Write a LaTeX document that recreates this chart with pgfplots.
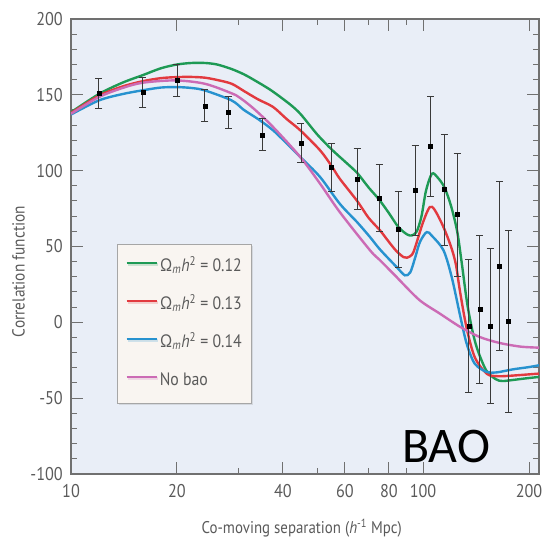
\documentclass[border=0pt]{standalone}
\usepackage{fontspec}
\setmainfont[FakeStretch=0.88]{PT Sans}
\newfontfamily\baofont{Carlito}
\usepackage{pgfplots}
\usepackage{pgfplotstable}
\pgfplotsset{compat=1.18}
\usetikzlibrary{shadows}

\definecolor{bgblue}{HTML}{E9EEF7}
\definecolor{legbg}{HTML}{F9F5F1}
\definecolor{axgray}{HTML}{707070}
\definecolor{txtgray}{HTML}{5A5A5A}
\definecolor{cgreen}{HTML}{1E9A55}
\definecolor{cred}{HTML}{E23A3F}
\definecolor{cblue}{HTML}{2792CF}
\definecolor{cpink}{HTML}{CC6BB5}
\definecolor{errgray}{HTML}{3A3A3A}

% measured correlation function with 1-sigma errors
\pgfplotstableread{
x    y      e
12   151.0  10
16   151.5  10
20   159.5  10.5
24   142.8  10.5
28   138.6  10.5
35   123.7  10.5
45   118.2  13
55   102.0  16
65   94.7   20
75   82.0   22
85   61.3   25
95   87.0   29.5
105  116.2  33
115  87.5   36.6
125  71.0   40.5
135  -2.4   44
145  8.6    48.6
155  -2.4   51.1
165  36.9   55.7
175  0.9    60
}\measured

% model: Omega_m h^2 = 0.12
\pgfplotstableread{
x     y
10    138.5
12    150.5
14    158
16    163
18    167.5
20    170
22    171
24    171
26    170
28.6  167
31    163.5
33    160
37    153
42    143.5
45    137
50    124
55    114
60    106
65    98.5
70    89
75    81
80    72
85    63
90    58
93    57.3
96    60
99    70
102   87
106   98
110   95.5
115   89
120   77
125   60
129   38
134   10
141   -14
151   -31.5
161   -37.5
168   -38.7
180   -38
195   -37
213.5 -36
}\modelA

% model: Omega_m h^2 = 0.13
\pgfplotstableread{
x     y
10    138
12    149.4
14    155.5
16    159
18    161
20    161.7
22    161.8
24    161.3
26    159.8
28.6  157.3
31    152.5
34    147
37.5  142
41    134
44.8  126.6
51    113.4
55    103
58    94.7
65    80
70    69
75.5  60.6
80    53
84    47
88    43
90    42.6
93    44.5
95    49.6
100   66
104.5 76
108   74
114.3 62.8
120.2 49.6
124   38
127.2 21.1
132.8 -3.1
140.2 -22.9
151.5 -33.8
162   -35.5
175   -35.3
195   -34.5
213.5 -33.8
}\modelB

% model: Omega_m h^2 = 0.14
\pgfplotstableread{
x     y
10    137
12    146.3
14    150.5
16    153
18    154.8
20    155.1
22    154.5
24    152.9
28.6  146.3
31    140
34    134
37.5  126.6
41.8  116
44.8  109
51    95.8
58    78.2
65    66
70.7  56.2
75.5  48
84.1  36.5
88.8  31
92    33
95.1  43.1
98    53
102.4 59.5
106   57
114.3 47.5
120.6 29.9
127.7 3.5
133   -14
140.2 -27.2
151.5 -32.7
162   -33
180   -31
200   -29.5
213.5 -28.3
}\modelC

% model without acoustic feature
\pgfplotstableread{
x     y
10    137.5
12    148.5
14    154.5
16    158
19.8  159.5
24    157.3
28.6  151
30.2  148
33    141
37.5  128.8
44.8  109
51    91.4
58    72.7
70.7  47.5
75.5  40.9
84.1  29.9
86    27.5
97.9  14.5
111.7 5.7
127.7 -3.1
145   -9.7
165   -13.6
189   -16
213.5 -16.7
}\nobao

\begin{document}
\begin{tikzpicture}
\path[use as bounding box] (-71bp,-64bp) rectangle (472bp,474bp);
\begin{axis}[
  scale only axis, width=468bp, height=455bp,
  xmode=log, xmin=10, xmax=213.5, ymin=-100, ymax=200,
  axis background/.style={fill=bgblue},
  axis line style={axgray, line width=1.1bp},
  xtick={10,20,40,60,80,100,200},
  xticklabels={10,20,40,60,80,100,200},
  minor xtick={30,50,70,90},
  ytick={-100,-50,0,50,100,150,200},
  yticklabels={-100,-50,0,50,100,150,200},
  minor ytick={-90,-80,-70,-60,-40,-30,-20,-10,10,20,30,40,60,70,80,90,110,120,130,140,160,170,180,190},
  tick align=inside,
  major tick length=12bp, minor tick length=6bp,
  every tick/.style={axgray, line width=1bp},
  ticklabel style={font=\fontsize{18.5}{18.5}\selectfont, text=txtgray},
  yticklabel style={inner sep=0pt, xshift=-8bp},
  xticklabel style={inner sep=0pt, yshift=-10bp},
  xlabel={Co-moving separation (\textit{h}\textsuperscript{-1} Mpc)},
  xlabel style={at={(rel axis cs:0.493,0)}, anchor=north, inner sep=0pt, yshift=-45bp, font=\fontsize{17}{17}\selectfont, text=txtgray},
  ylabel={Correlation function},
  ylabel style={at={(rel axis cs:-0.112,0.445)}, anchor=center, inner sep=0pt, font=\fontsize{17.5}{17.5}\selectfont, text=txtgray},
  legend style={at={(rel axis cs:0.0983,0.5055)}, anchor=north west, fill=legbg, draw=gray!70, line width=0.8bp,
    drop shadow={shadow xshift=1.5bp, shadow yshift=-1.5bp, opacity=0.2},
    font=\fontsize{18}{18}\selectfont, text=txtgray, inner xsep=8bp, inner ysep=12bp, row sep=17bp,
    nodes={text height=13bp, text depth=4bp}},
  legend cell align=left,
  legend image code/.code={\draw[#1, line width=2.4bp] (0bp,4bp) -- (30bp,4bp);},
]
\addplot[cgreen, line width=2.4bp, smooth] table[x=x, y=y] {\modelA};
\addlegendentry{Ω\textsubscript{\textit{m}}\textit{h}\textsuperscript{2} = 0.12}
\addplot[cred, line width=2.4bp, smooth] table[x=x, y=y] {\modelB};
\addlegendentry{Ω\textsubscript{\textit{m}}\textit{h}\textsuperscript{2} = 0.13}
\addplot[cblue, line width=2.4bp, smooth] table[x=x, y=y] {\modelC};
\addlegendentry{Ω\textsubscript{\textit{m}}\textit{h}\textsuperscript{2} = 0.14}
\addplot[cpink, line width=2.4bp, smooth] table[x=x, y=y] {\nobao};
\addlegendentry{No bao}
\addplot[forget plot, only marks, mark=square*, mark size=2bp, mark options={fill=black, draw=black},
  error bars/.cd, y dir=both, y explicit,
  error bar style={errgray, line width=0.9bp},
  error mark options={rotate=90, errgray, mark size=3.5bp, line width=0.9bp}]
  table[x=x, y=y, y error=e] {\measured};
\node[anchor=base west, inner sep=0pt] at (axis cs:87.2,-92.3) {\baofont\fontsize{50}{50}\selectfont BAO};
\end{axis}
\end{tikzpicture}
\end{document}
